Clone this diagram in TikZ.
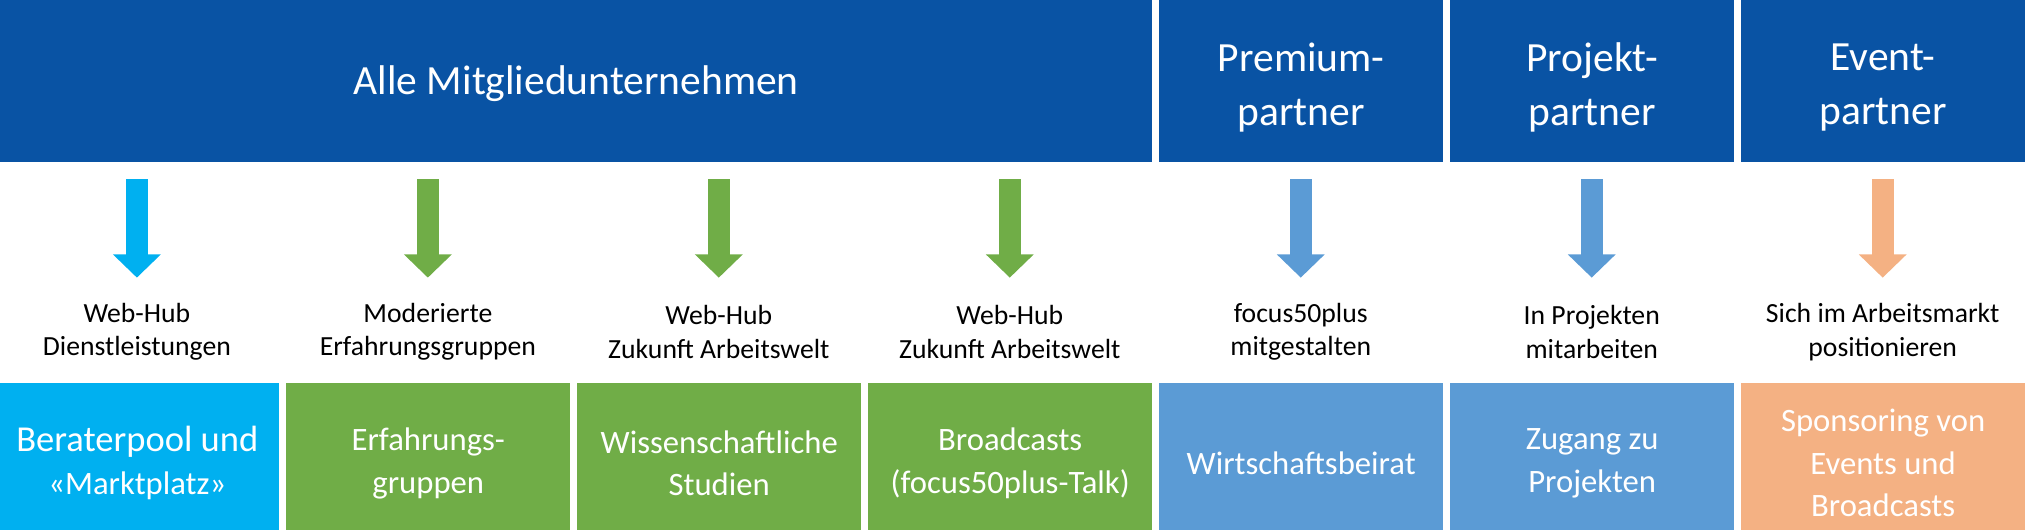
\documentclass[tikz,border=0pt]{standalone}
\usepackage{fontspec}
\setmainfont{Carlito}
\usetikzlibrary{arrows.meta,positioning,calc}
\definecolor{bancolor}{RGB}{9,83,164}
\definecolor{cyancolor}{RGB}{0,176,240}
\definecolor{greencolor}{RGB}{112,173,71}
\definecolor{bluecolor}{RGB}{91,155,213}
\definecolor{orangecolor}{RGB}{244,177,131}
\def\colw{220}
\def\colstep{225.3}
\def\colshift{-4}
\tikzset{
  block/.style    = {rectangle, anchor=south west, inner sep=0pt},
  banner/.style   = {block, fill=bancolor, minimum width=4.4cm, minimum height=2.52cm},
  tile/.style     = {block, minimum width=4.4cm, minimum height=2.28cm},
  bantext/.style  = {align=center, text=white, font=\fontsize{18.3}{24}\selectfont},
  tiletext/.style = {align=center, text=white, font=\fontsize{14.4}{18.8}\selectfont},
  note/.style     = {align=center, font=\fontsize{12.2}{14.8}\selectfont},
  flow/.style     = {-{Triangle[width=7.2mm,length=3.6mm]}, line width=3.4mm}
}
\begin{document}
\begin{tikzpicture}[x=0.02cm,y=0.02cm]
\useasboundingbox (0,0) rectangle (1568,411);

% top row: member groups
\node[banner, minimum width=17.84cm] (ban0) at (0,285) {};
\node[bantext] (bantxt0) at ($(ban0.center)+(0,-2)$) {Alle Mitgliedunternehmen};
\foreach \name [count=\k from 4] in {{Premium-\\partner}, {Projekt-\\partner}, {Event-\\partner}}{
  \node[banner] (ban\k) at (\k*\colstep+\colshift,285) {};
  \node[bantext] (bantxt\k) at ($(ban\k.center)+(0,-5)$) {\name};
}

% -------------------- Columns --------------------

% arrow, offer line and tile per column
\foreach \col/\txt/\name [count=\k from 0] in {
    cyancolor/{Web-Hub\\Dienstleistungen}/{\fontsize{16.1}{18.8}\selectfont Beraterpool und\\«Marktplatz»},
    greencolor/{Moderierte\\Erfahrungsgruppen}/{Erfahrungs-\\gruppen},
    greencolor/{Web-Hub\\Zukunft Arbeitswelt}/{Wissenschaftliche\\Studien},
    greencolor/{Web-Hub\\Zukunft Arbeitswelt}/{Broadcasts\\(focus50plus-Talk)},
    bluecolor/{focus50plus\\mitgestalten}/{Wirtschaftsbeirat},
    bluecolor/{In Projekten\\mitarbeiten}/{Zugang zu\\Projekten},
    orangecolor/{Sich im Arbeitsmarkt\\positionieren}/{Sponsoring von\\Events und\\Broadcasts}}{
  \node[tile, fill=\col] (tile\k) at (\k*\colstep+\colshift,0) {};
  \node[tiletext] (tiletxt\k) at ($(tile\k.center)+(0,-5)$) {\name};
  \node[note] (note\k) at (\k*\colstep+\colshift+\colw/2,154) {\txt};
  \coordinate (top\k) at (\k*\colstep+\colshift+\colw/2,272);
  \coordinate (tip\k) at (\k*\colstep+\colshift+\colw/2,196);
  \draw[flow, draw=\col, fill=\col] (top\k) -- (tip\k);
}

\end{tikzpicture}
\end{document}
